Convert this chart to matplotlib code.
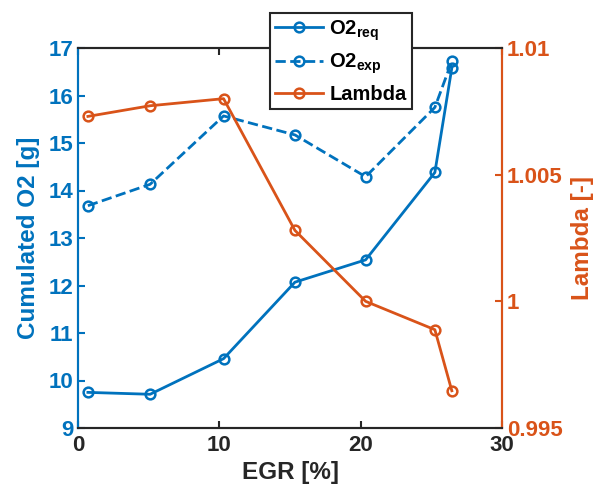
import matplotlib
matplotlib.use("Agg")
import matplotlib.pyplot as plt

egr = [0.7, 5.1, 10.3, 15.35, 20.35, 25.25, 26.45]
o2_req = [9.75, 9.71, 10.46, 12.07, 12.54, 14.38, 16.58]
o2_exp = [13.68, 14.13, 15.57, 15.17, 14.29, 15.75, 16.72]
lam = [1.0073, 1.00772, 1.0080, 1.0028, 1.0000, 0.99888, 0.99647]

blue = "#0072BD"
orange = "#D95319"
dark = "#262626"

plt.rcParams['font.family'] = ['Liberation Sans', 'DejaVu Sans']
plt.rcParams['font.weight'] = 'bold'
plt.rcParams['font.size'] = 16
plt.rcParams['mathtext.fontset'] = 'custom'
plt.rcParams['mathtext.rm'] = 'Liberation Sans:bold'
plt.rcParams['mathtext.bf'] = 'Liberation Sans:bold'

fig = plt.figure(figsize=(5.99, 4.93), dpi=100)
ax = fig.add_axes([78/599, 1-428/493, (502-78)/599, (428-48)/493])
ax2 = ax.twinx()

l1, = ax.plot(egr, o2_req, '-o', color=blue, lw=2, ms=7, mfc='none', mew=1.8, label='O2$_{\\mathbf{req}}$')
l2, = ax.plot(egr, o2_exp, '--o', color=blue, lw=2, ms=7, mfc='none', mew=1.8, label='O2$_{\\mathbf{exp}}$')
l3, = ax2.plot(egr, lam, '-o', color=orange, lw=2, ms=7, mfc='none', mew=1.8, label='Lambda')

ax.set_xlim(0, 30)
ax.set_ylim(9, 17)
ax2.set_ylim(0.995, 1.01)
ax.set_xticks([0, 10, 20, 30])
ax.set_yticks(range(9, 18))
ax2.set_yticks([0.995, 1.0, 1.005, 1.01])
ax2.set_yticklabels(['0.995', '1', '1.005', '1.01'])

ax.set_xlabel('EGR [%]', color=dark, fontweight='bold', fontsize=17.5, labelpad=4)
ax.set_ylabel('Cumulated O2 [g]', color=blue, fontweight='bold', fontsize=17.5, labelpad=6)
ax2.set_ylabel('Lambda [-]', color=orange, fontweight='bold', fontsize=17.5, labelpad=6)

for a in (ax, ax2):
    for s in a.spines.values():
        s.set_linewidth(1.5)
    a.spines['top'].set_color(dark)
    a.spines['bottom'].set_color(dark)
    a.spines['left'].set_color(blue)
    a.spines['right'].set_color(orange)

ax.tick_params(axis='x', direction='in', colors=dark, top=True, length=5, width=1.5, pad=5)
ax.tick_params(axis='y', direction='in', colors=blue, length=5, width=1.5)
ax2.tick_params(axis='y', direction='in', colors=orange, length=5, width=1.5)
for t in ax.get_xticklabels() + ax.get_yticklabels() + ax2.get_yticklabels():
    t.set_fontweight('bold')

leg = ax2.legend(handles=[l1, l2, l3], loc='upper left', bbox_to_anchor=(270/599, 1-13/493),
                 bbox_transform=fig.transFigure, frameon=True, fancybox=False,
                 edgecolor=dark, framealpha=1, borderpad=0.25, labelspacing=0.45,
                 handlelength=2.4, handletextpad=0.3, borderaxespad=0,
                 prop={'size': 14.5, 'weight': 'bold'})
leg.get_frame().set_linewidth(1.5)
leg.set_zorder(10)
for t in leg.get_texts():
    t.set_color('black')

fig.savefig('out.png', dpi=100)
